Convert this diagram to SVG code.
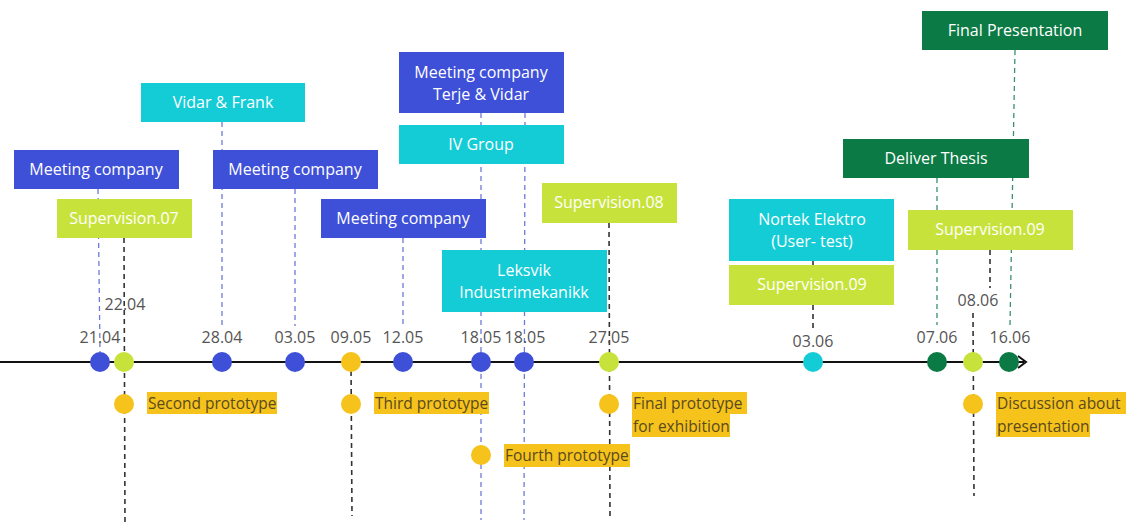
<svg xmlns="http://www.w3.org/2000/svg" width="1141" height="529" viewBox="0 0 1141 529">
<style>
.bx text{fill:#fff;font-family:"Open Sans","Noto Sans",sans-serif;font-size:16px;text-anchor:middle}
.blue{fill:#3E4FD8}.cyan{fill:#14CCD6}.lime{fill:#C7E33B}.dg{fill:#0C7A44}.org{fill:#F6C21C}
.dt{fill:#555;font-family:"Open Sans","Noto Sans",sans-serif;font-size:16px;text-anchor:middle}
.pl text{fill:#5a4a1e;font-family:"Open Sans","Noto Sans",sans-serif;font-size:15.5px}
.db{stroke:#6f79d6;stroke-width:1.3;stroke-dasharray:5 4;fill:none}
.dk{stroke:#333;stroke-width:1.6;stroke-dasharray:5 4;fill:none}
.dgl{stroke:#3c8f6a;stroke-width:1.3;stroke-dasharray:5 4;fill:none}
</style>
<rect width="1141" height="529" fill="#fff"/>
<g id="connectors">
<line class="db" x1="98" y1="189" x2="100" y2="352"/>
<line class="dk" x1="124" y1="238" x2="125" y2="525"/>
<line class="db" x1="222" y1="122" x2="222" y2="326"/>
<line class="db" x1="295" y1="189" x2="295" y2="326"/>
<line class="db" x1="403" y1="238" x2="403" y2="326"/>
<line class="db" x1="481" y1="113" x2="481" y2="520"/>
<line class="db" x1="525" y1="113" x2="524" y2="520"/>
<line class="dk" x1="609" y1="223" x2="610" y2="520"/>
<line class="dk" x1="351" y1="362" x2="352" y2="516"/>
<line class="dk" x1="813" y1="261" x2="813" y2="265"/>
<line class="dk" x1="813" y1="305" x2="813" y2="330"/>
<line class="dgl" x1="937" y1="178" x2="937" y2="325"/>
<line class="dgl" x1="1015" y1="50" x2="1010" y2="325"/>
<line class="dk" x1="990" y1="250" x2="990" y2="288"/>
<line class="dk" x1="973" y1="313" x2="974" y2="496"/>
</g>
<g id="timeline">
<line x1="0" y1="362" x2="1024" y2="362" stroke="#111" stroke-width="2"/>
<polyline points="1018,356 1026,362 1018,368" fill="none" stroke="#111" stroke-width="2"/>
</g>
<g id="dots">
<circle class="blue" cx="100" cy="362" r="10"/>
<circle class="lime" cx="124" cy="362" r="10"/>
<circle class="blue" cx="222" cy="362" r="10"/>
<circle class="blue" cx="295" cy="362" r="10"/>
<circle class="org" cx="351" cy="362" r="10"/>
<circle class="blue" cx="403" cy="362" r="10"/>
<circle class="blue" cx="481" cy="362" r="10"/>
<circle class="blue" cx="524" cy="362" r="10"/>
<circle class="lime" cx="609" cy="362" r="10"/>
<circle class="cyan" cx="813" cy="362" r="10"/>
<circle class="dg" cx="937" cy="362" r="10"/>
<circle class="lime" cx="973" cy="362" r="10"/>
<circle class="dg" cx="1009" cy="362" r="10"/>
</g>
<g id="dates">
<text class="dt" x="100" y="343">21.04</text>
<text class="dt" x="125" y="310">22.04</text>
<text class="dt" x="222" y="343">28.04</text>
<text class="dt" x="295" y="343">03.05</text>
<text class="dt" x="351" y="343">09.05</text>
<text class="dt" x="403" y="343">12.05</text>
<text class="dt" x="481" y="343">18.05</text>
<text class="dt" x="525" y="343">18.05</text>
<text class="dt" x="609" y="343">27.05</text>
<text class="dt" x="813" y="347">03.06</text>
<text class="dt" x="937" y="343">07.06</text>
<text class="dt" x="978" y="306">08.06</text>
<text class="dt" x="1010" y="343">16.06</text>
</g>
<g id="n-meeting1" class="bx"><rect class="blue" x="14" y="150" width="165" height="39"/><text x="96" y="175">Meeting company</text></g>
<g id="n-sup07" class="bx"><rect class="lime" x="57" y="199" width="135" height="39"/><text x="124" y="224">Supervision.07</text></g>
<g id="n-vidarfrank" class="bx"><rect class="cyan" x="141" y="83" width="164" height="39"/><text x="223" y="108">Vidar &amp; Frank</text></g>
<g id="n-meeting2" class="bx"><rect class="blue" x="213" y="150" width="165" height="39"/><text x="295" y="175">Meeting company</text></g>
<g id="n-meeting3" class="bx"><rect class="blue" x="321" y="199" width="165" height="39"/><text x="403" y="224">Meeting company</text></g>
<g id="n-meeting4" class="bx"><rect class="blue" x="399" y="52" width="165" height="61"/><text x="481" y="78">Meeting company</text><text x="481" y="100">Terje &amp; Vidar</text></g>
<g id="n-ivgroup" class="bx"><rect class="cyan" x="399" y="125" width="165" height="39"/><text x="481" y="150">IV Group</text></g>
<g id="n-sup08" class="bx"><rect class="lime" x="542" y="183" width="135" height="40"/><text x="609" y="208">Supervision.08</text></g>
<g id="n-leksvik" class="bx"><rect class="cyan" x="442" y="250" width="165" height="62"/><text x="524" y="276">Leksvik</text><text x="524" y="298">Industrimekanikk</text></g>
<g id="n-nortek" class="bx"><rect class="cyan" x="729" y="199" width="165" height="62"/><text x="812" y="225">Nortek Elektro</text><text x="812" y="247">(User- test)</text></g>
<g id="n-sup09a" class="bx"><rect class="lime" x="729" y="265" width="165" height="40"/><text x="812" y="290">Supervision.09</text></g>
<g id="n-deliver" class="bx"><rect class="dg" x="843" y="139" width="186" height="39"/><text x="936" y="164">Deliver Thesis</text></g>
<g id="n-final" class="bx"><rect class="dg" x="922" y="11" width="186" height="39"/><text x="1015" y="36">Final Presentation</text></g>
<g id="n-sup09b" class="bx"><rect class="lime" x="908" y="210" width="165" height="40"/><text x="990" y="235">Supervision.09</text></g>
<g id="n-second" class="pl"><circle class="org" cx="124" cy="404" r="10"/><rect class="org" x="147" y="392" width="130" height="22"/><text x="148" y="409">Second prototype</text></g>
<g id="n-third" class="pl"><circle class="org" cx="351" cy="404" r="10"/><rect class="org" x="374" y="392" width="115" height="22"/><text x="375" y="409">Third prototype</text></g>
<g id="n-fourth" class="pl"><circle class="org" cx="481" cy="455" r="10"/><rect class="org" x="504" y="444" width="126" height="23"/><text x="505" y="461">Fourth prototype</text></g>
<g id="n-finalproto" class="pl"><circle class="org" cx="609" cy="404" r="10"/><rect class="org" x="632" y="392" width="115" height="22"/><rect class="org" x="632" y="414" width="98" height="23"/><text x="633" y="409">Final prototype</text><text x="633" y="432">for exhibition</text></g>
<g id="n-discussion" class="pl"><circle class="org" cx="973" cy="404" r="10"/><rect class="org" x="996" y="392" width="130" height="22"/><rect class="org" x="996" y="414" width="94" height="23"/><text x="997" y="409">Discussion about</text><text x="997" y="432">presentation</text></g>
</svg>
